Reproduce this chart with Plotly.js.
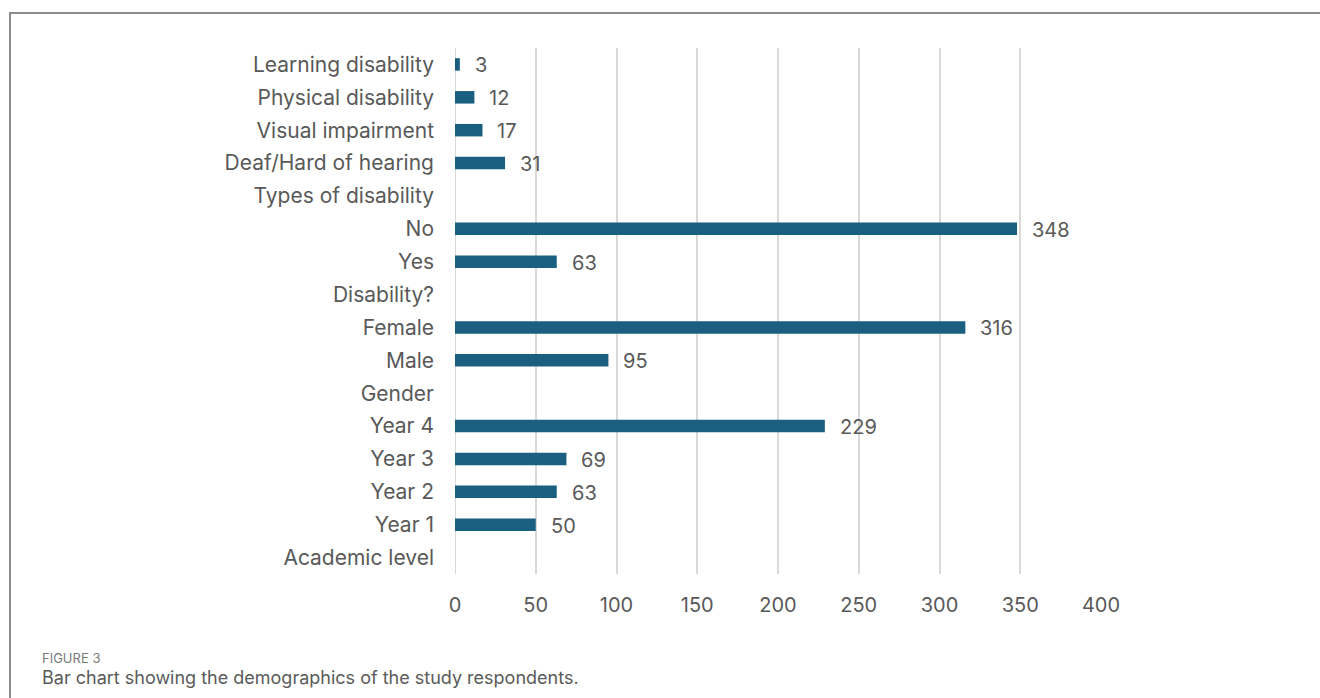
<!DOCTYPE html>
<html>
<head>
<meta charset="utf-8">
<script src="https://cdn.plot.ly/plotly-3.0.1.min.js"></script>
<style>
  html, body { margin: 0; padding: 0; background: #fff; }
  #frame { position: absolute; left: 9px; top: 12px; width: 1311px; height: 686px;
           border-top: 2px solid #8c8c8c; border-left: 2px solid #8c8c8c; box-sizing: border-box; }
  #chart { position: absolute; left: 0; top: 0; width: 1320px; height: 698px; }
</style>
</head>
<body>
<div id="frame"></div>
<div id="chart"></div>
<script>
// Categories, top to bottom as shown
const categories = [
  "Learning disability", "Physical disability", "Visual impairment", "Deaf/Hard of hearing",
  "Types of disability", "No", "Yes", "Disability?", "Female", "Male", "Gender",
  "Year 4", "Year 3", "Year 2", "Year 1", "Academic level"
];
// Respondent counts (null for group header rows)
const counts = [3, 12, 17, 31, null, 348, 63, null, 316, 95, null, 229, 69, 63, 50, null];
const xTicks = [0, 50, 100, 150, 200, 250, 300, 350, 400];
const figureLabel = "FIGURE 3";
const caption = "Bar chart showing the demographics of the study respondents.";

const FONT = "Inter, 'Open Sans', sans-serif";
const textColor = "#595959";

const trace = {
  type: "bar",
  orientation: "h",
  y: categories,
  x: counts,
  marker: { color: "#1a5f80" },
  width: 0.38,
  hoverinfo: "x+y"
};

const annotations = [];
categories.forEach((c, i) => {
  if (counts[i] !== null) {
    annotations.push({
      x: counts[i], y: c, xref: "x", yref: "y",
      text: String(counts[i]), showarrow: false,
      xanchor: "left", xshift: 13, yshift: -1,
      font: { family: FONT, size: 20, color: textColor }
    });
  }
});
annotations.push({
  x: 0, y: 0, xref: "paper", yref: "paper", xanchor: "left", yanchor: "middle",
  text: figureLabel, showarrow: false, xshift: -455 + 40, yshift: -124 + 40,
  font: { family: FONT, size: 13, color: "#7a7a7a" }
});
annotations.push({
  x: 0, y: 0, xref: "paper", yref: "paper", xanchor: "left", yanchor: "middle",
  text: caption, showarrow: false, xshift: -455 + 40, yshift: -124 + 21,
  font: { family: FONT, size: 18, color: "#5a5a5a" }
});

const layout = {
  width: 1320, height: 698,
  margin: { l: 455, r: 219, t: 48, b: 124, pad: 0 },
  paper_bgcolor: "rgba(0,0,0,0)",
  plot_bgcolor: "rgba(0,0,0,0)",
  showlegend: false,
  xaxis: {
    range: [0, 400], tickvals: xTicks, ticktext: xTicks.map(String),
    showgrid: true, gridcolor: "#d9d9d9", gridwidth: 2,
    zeroline: false, showline: false, ticks: "",
    ticklabelstandoff: 17,
    tickfont: { family: FONT, size: 20, color: textColor },
    fixedrange: true
  },
  yaxis: {
    type: "category", categoryorder: "array", categoryarray: categories,
    range: [15.5, -0.5],
    showgrid: false, zeroline: false, showline: false, ticks: "",
    ticklabelstandoff: 20,
    tickfont: { family: FONT, size: 21, color: textColor },
    fixedrange: true
  },
  shapes: [{
    type: "line", xref: "x", yref: "paper", x0: 0, x1: 0, y0: 0, y1: 1,
    line: { color: "#d9d9d9", width: 2 }, layer: "below"
  }],
  annotations: annotations
};

Plotly.newPlot("chart", [trace], layout, { displayModeBar: false, staticPlot: true });
</script>
</body>
</html>
